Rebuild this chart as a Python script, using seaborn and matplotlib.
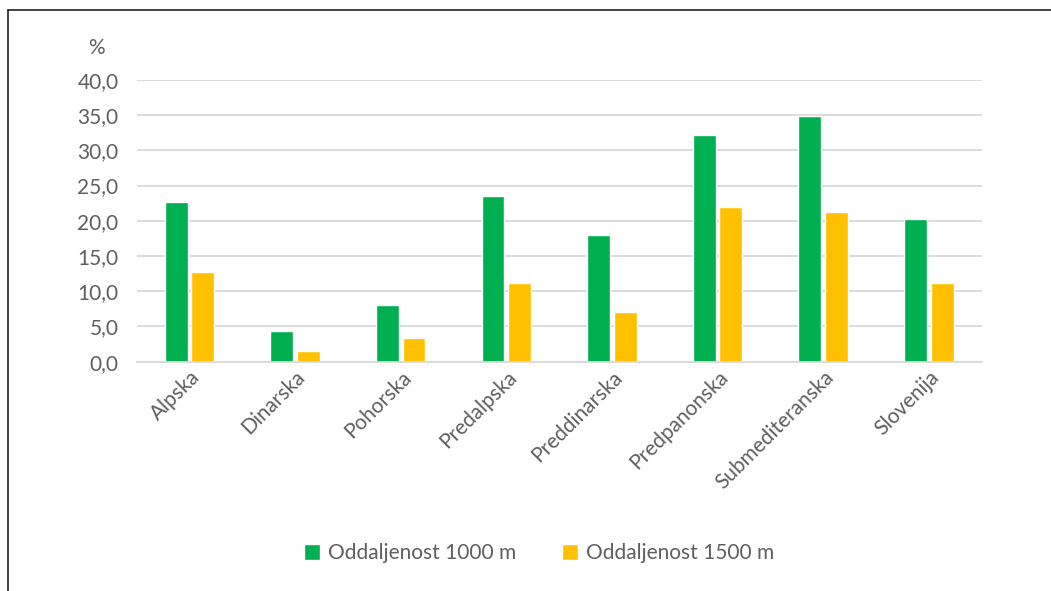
import matplotlib
matplotlib.use("Agg")
import matplotlib.pyplot as plt
from matplotlib.lines import Line2D
import seaborn as sns
import pandas as pd

# Share of area (%) within given distance, by region
regions = ["Alpska", "Dinarska", "Pohorska", "Predalpska", "Preddinarska",
           "Predpanonska", "Submediteranska", "Slovenija"]
dist_1000 = [22.6, 4.4, 8.0, 23.5, 18.0, 32.2, 34.8, 20.2]
dist_1500 = [12.7, 1.5, 3.4, 11.2, 7.0, 21.9, 21.3, 11.2]
series_names = ["Oddaljenost 1000 m", "Oddaljenost 1500 m"]
y_ticks = [0, 5, 10, 15, 20, 25, 30, 35, 40]

df = pd.DataFrame({
    "regija": regions * 2,
    "delez": dist_1000 + dist_1500,
    "serija": [series_names[0]] * len(regions) + [series_names[1]] * len(regions),
})

sns.set_theme(style="white")
plt.rcParams["font.family"] = ["Lato", "DejaVu Sans"]
text_col = "#5f5f5f"
fs = 15

fig = plt.figure(figsize=(10.51, 5.91), dpi=100)
ax = fig.add_axes([0.130, 0.388, 0.804, 0.477])

sns.barplot(data=df, x="regija", y="delez", hue="serija", order=regions,
            hue_order=series_names, palette=["#00B050", "#FFC000"],
            width=0.505, gap=0.14, saturation=1, ax=ax, legend=True)

ax.set_ylim(0, 40)
ax.set_xlim(-0.5, len(regions) - 0.5)
ax.set_yticks(y_ticks)
ax.set_yticklabels([f"{v:.1f}".replace(".", ",") for v in y_ticks])
ax.yaxis.grid(True, color="#D9D9D9", linewidth=1.3)
ax.set_axisbelow(True)
for s in ["left", "right", "top"]:
    ax.spines[s].set_visible(False)
ax.spines["bottom"].set_color("#D9D9D9")
ax.spines["bottom"].set_linewidth(1.3)
ax.set_xlabel("")
ax.set_ylabel("")
ax.tick_params(axis="y", length=0, pad=13, labelsize=fs, labelcolor=text_col)
ax.tick_params(axis="x", length=0, pad=4, labelsize=fs, labelcolor=text_col)
for lab in ax.get_xticklabels():
    lab.set_rotation(45)
    lab.set_ha("right")
    lab.set_rotation_mode("anchor")

fig.text(0.092, 0.918, "%", fontsize=fs, color=text_col, ha="center", va="center")

handles, labels = ax.get_legend_handles_labels()
ax.legend(handles, labels, loc="center", bbox_to_anchor=(0.513, 0.064),
          bbox_transform=fig.transFigure, ncol=2, frameon=False,
          fontsize=fs, labelcolor=text_col, handlelength=0.75,
          handleheight=0.75, handletextpad=0.4, columnspacing=2.2)

# Outer frame: left and top edges
fig.add_artist(Line2D([0.0076, 0.0076], [0.0, 0.983], color="#222222",
                      linewidth=1.2, transform=fig.transFigure))
fig.add_artist(Line2D([0.0076, 1.0], [0.983, 0.983], color="#222222",
                      linewidth=1.2, transform=fig.transFigure))

fig.savefig("out.png", dpi=100, facecolor="white")
